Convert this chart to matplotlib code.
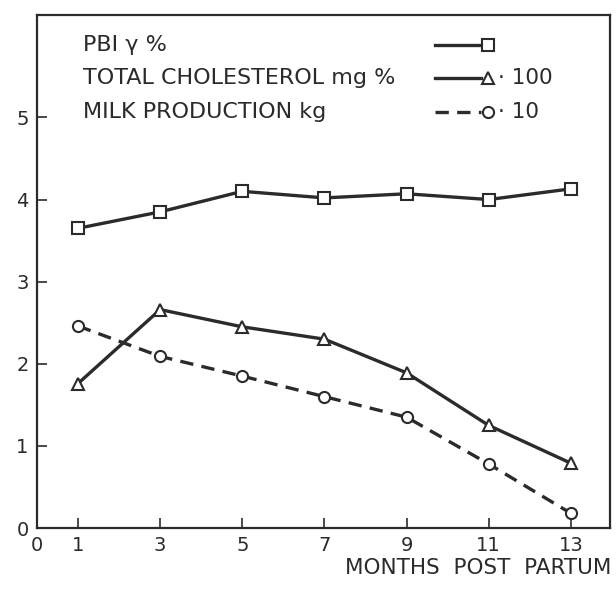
import matplotlib
matplotlib.use('Agg')
import matplotlib.pyplot as plt
from matplotlib.lines import Line2D

months = [1, 3, 5, 7, 9, 11, 13]
pbi = [3.65, 3.85, 4.10, 4.02, 4.07, 4.00, 4.13]
cholesterol = [1.76, 2.66, 2.45, 2.30, 1.89, 1.25, 0.79]
milk = [2.46, 2.09, 1.85, 1.60, 1.35, 0.78, 0.18]

x_ticks = [0, 1, 3, 5, 7, 9, 11, 13]
y_ticks = [0, 1, 2, 3, 4, 5]

ink = '#2b2b2b'
plt.rcParams['font.family'] = ['DejaVu Sans']

fig = plt.figure(figsize=(6.16, 5.9), dpi=100)
ax = fig.add_axes([0.060, 0.105, 0.930, 0.870])

mk = dict(markersize=8, markerfacecolor='white', markeredgecolor=ink, markeredgewidth=1.5)
ax.plot(months, pbi, color=ink, lw=2.4, marker='s', **mk)
ax.plot(months, cholesterol, color=ink, lw=2.4, marker='^', **mk)
ax.plot(months, milk, color=ink, lw=2.4, ls=(0, (4, 2.5)), marker='o', **mk)

ax.set_xlim(0, 13.95)
ax.set_ylim(0, 6.25)
ax.set_xticks(x_ticks)
ax.set_yticks(y_ticks)
ax.tick_params(direction='in', length=7, width=1.2, colors=ink, labelsize=14, pad=6)
ax.set_xticklabels([str(m) for m in x_ticks])
ax.set_yticklabels([str(v) for v in y_ticks])
# no tick marks at the origin, only the labels
ax.xaxis.get_major_ticks()[0].tick1line.set_visible(False)
ax.yaxis.get_major_ticks()[0].tick1line.set_visible(False)
for s in ax.spines.values():
    s.set_color(ink)
    s.set_linewidth(1.6)

# hand-made legend in the upper left
labels = ['PBI \u03b3 %', 'TOTAL CHOLESTEROL mg %', 'MILK PRODUCTION kg']
suffixes = ['', '\u00b7 100', '\u00b7 10']
markers = ['s', '^', 'o']
styles = ['-', '-', (0, (4, 2.5))]
rows = [0.942, 0.877, 0.811]
for lab, suf, m, st, yy in zip(labels, suffixes, markers, styles, rows):
    ax.text(0.080, yy, lab, transform=ax.transAxes, ha='left', va='center',
            fontsize=16, color=ink)
    ax.add_line(Line2D([0.695, 0.775], [yy, yy], transform=ax.transAxes, color=ink, lw=2.4, ls=st))
    ax.add_line(Line2D([0.787], [yy], transform=ax.transAxes, marker=m, **mk))
    if suf:
        ax.text(0.805, yy, suf, transform=ax.transAxes, ha='left', va='center',
                fontsize=15.5, color=ink)

fig.text(0.993, 0.02, 'MONTHS  POST  PARTUM', ha='right', va='bottom', fontsize=15.5, color=ink)

fig.savefig('out.png', dpi=100, facecolor='white')
